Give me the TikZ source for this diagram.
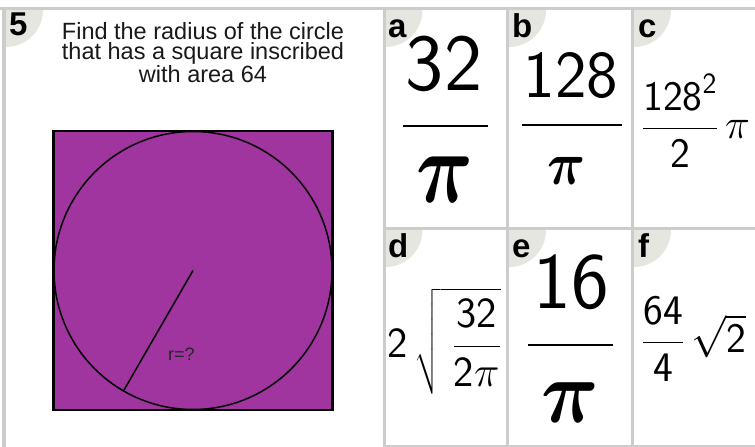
\documentclass[tikz,border=0pt]{standalone}
\usepackage{fix-cm}
\usepackage{amsmath}
\usepackage{fontspec}
\usepackage{tikz}
\usetikzlibrary{positioning}
\newfontfamily\arialfont{Liberation Sans}
\definecolor{cellrule}{HTML}{CCCCCC}
\definecolor{badgebg}{HTML}{E6E6E1}
\definecolor{plum}{HTML}{A0359F}
\tikzset{
  gridline/.style={draw=cellrule, line width=3pt},
  badge/.style={fill=badgebg},
  tag/.style={anchor=base west, inner sep=0pt, font=\arialfont\bfseries\fsz{33}},
  qtext/.style={anchor=north, align=center, inner sep=0pt, font=\arialfont\fontsize{23.5}{20.7}\selectfont, text=black!90},
  bignum/.style={anchor=base, inner sep=0pt},
  bigpi/.style={inner sep=0pt},
  mathcell/.style={anchor=base west, inner sep=0pt, font=\fsz{42}},
  fracbar/.style={line width=2.2pt}
}
\newcommand{\fsz}[1]{\fontsize{#1}{#1}\selectfont}
\newcommand{\sd}[1]{\mathsf{#1}}

\begin{document}
\begin{tikzpicture}[x=1pt, y=-1pt]
  \useasboundingbox (0,0) rectangle (755,447);
  \clip (0,0) rectangle (755,447);
  \fill[white] (0,0) rectangle (755,447);

  % corner badges, cut to their cells
  \foreach \xa/\ya/\xb/\yb in {6/10/384/447, 385.5/10/506/227, 509/10/631/227, 634/10/755/227,
                               385.5/230/506/445, 509/230/631/445, 634/230/755/445} {
    \begin{scope}
      \clip (\xa,\ya) rectangle (\xb,\yb);
      \fill[badge] (\xa,\ya) circle (37);
    \end{scope}
  }

  \draw[gridline] (0,8.5) -- (755,8.5);
  \draw[gridline, line width=4pt] (4,8.5) -- (4,447);
  \draw[gridline] (384,8.5) -- (384,447);
  \draw[gridline] (507.5,8.5) -- (507.5,447);
  \draw[gridline] (632.5,8.5) -- (632.5,447);
  \draw[gridline] (384,228.5) -- (755,228.5);
  \draw[gridline] (384,446) -- (755,446);

  % question
  \node[tag] (q5) at (9,35) {5};
  \node[qtext] (question) at (203,22) {Find the radius of the circle\\that has a square inscribed\\with area 64};

  \node[draw, fill=plum, line width=2.5pt, minimum size=279, inner sep=0pt] (sq) at (193,270.5) {};
  \node[draw, circle, line width=1.5pt, minimum size=278, inner sep=0pt] (circ) at (sq.center) {};
  \draw[line width=1.5pt] (circ.center) -- (circ.240);
  \node[anchor=base west, inner sep=0pt, font=\arialfont\fsz{18}, text=black!85] (rlbl) at (168,360) {r=?};

  % answers
  \node[tag] (la) at (388,37) {a};
  \node[tag] (lb) at (512,37) {b};
  \node[tag] (lc) at (638,37) {c};
  \node[tag] (ld) at (388,257) {d};
  \node[tag] (le) at (512,257) {e};
  \node[tag] (lf) at (638,257) {f};

  \node[bignum, font=\sffamily\fsz{81}] (anum) at (444,90) {32};
  \draw[fracbar] (403,126) -- (488,126);
  \node[bigpi] (aden) at (445,180) {\fsz{79}\scalebox{1}[1.3]{$\boldsymbol{\pi}$}};

  \node[bignum, font=\sffamily\fsz{67}] (bnum) at (571,97) {128};
  \draw[fracbar] (522,125) -- (622,125);
  \node[bigpi] (bden) at (567,171) {\fsz{53}\scalebox{1}[1.15]{$\boldsymbol{\pi}$}};

  \node[mathcell] (cval) at (642,138.5) {$\dfrac{\sd{128}^{\sd{2}}}{\sd{2}}\,\pi$};

  \node[mathcell, font=\fsz{43}] (dval) at (387,357) {$\sd{2}\,\sqrt{\;\dfrac{\sd{32}}{\sd{2}\pi}}$};

  \node[bignum, font=\sffamily\fsz{80}] (enum) at (571,308) {16};
  \draw[fracbar] (528,345) -- (613,345);
  \node[bigpi] (eden) at (570,403) {\fsz{80}\scalebox{1}[1.12]{$\boldsymbol{\pi}$}};

  \node[mathcell] (fval) at (642,352.5) {$\dfrac{\sd{64}}{\sd{4}}\,\sqrt{\sd{2}}$};
\end{tikzpicture}
\end{document}
